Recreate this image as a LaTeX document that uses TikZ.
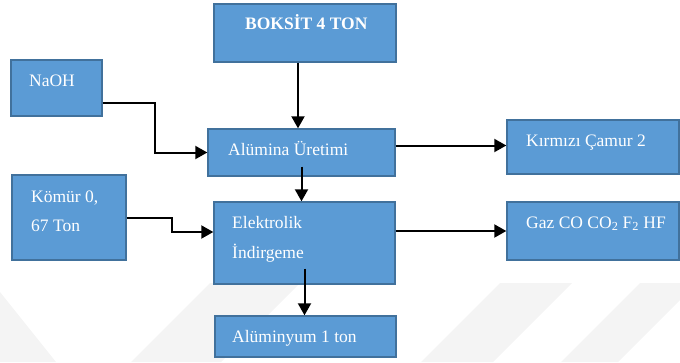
\documentclass[tikz,border=0pt]{standalone}
\usepackage{fontspec}
\setmainfont{Liberation Serif}
\usetikzlibrary{arrows.meta,calc}
\definecolor{boxfill}{HTML}{5B9BD5}
\definecolor{boxline}{HTML}{41719C}
\definecolor{wmark}{HTML}{F4F4F4}
\tikzset{
  blk/.style={draw=boxline, fill=boxfill, line width=1.4pt, inner sep=0pt},
  txt/.style={anchor=base west, inner sep=0pt, text=white, font=\fontsize{17.5}{20}\selectfont},
  arr/.style={draw=black, line width=2pt, -{Triangle[length=12pt,width=13pt]}}
}
\begin{document}
\begin{tikzpicture}[x=1pt,y=-1pt]
\useasboundingbox (0,0) rectangle (680,362);
% faint watermark bands
\fill[wmark] (0,292) -- (56,362) -- (0,362) -- cycle;
\fill[wmark] (210,283) -- (300,283) -- (221,362) -- (131,362) -- cycle;
\fill[wmark] (500,283) -- (572,283) -- (493,362) -- (421,362) -- cycle;
\fill[wmark] (640,283) -- (680,283) -- (680,300) -- (618,362) -- (561,362) -- cycle;
% boxes
\node[blk, minimum width=182pt, minimum height=58pt] (boksit) at (305,33) {};
\node[blk, minimum width=91pt, minimum height=56pt] (naoh) at (56.5,88) {};
\node[blk, minimum width=187pt, minimum height=47pt] (alumina) at (301.5,152.5) {};
\node[blk, minimum width=172pt, minimum height=54pt] (kirmizi) at (593,147) {};
\node[blk, minimum width=114pt, minimum height=85pt] (komur) at (69,217.5) {};
\node[blk, minimum width=181pt, minimum height=82pt] (elektro) at (304.5,243) {};
\node[blk, minimum width=172pt, minimum height=58pt] (gaz) at (593,231) {};
\node[blk, minimum width=181pt, minimum height=41pt] (alum) at (305.5,336.5) {};
% texts
\node[txt, font=\fontsize{17.5}{20}\selectfont\bfseries] (t1) at (245,29) {BOKSİT 4 TON};
\node[txt] (t2) at (29,86) {NaOH};
\node[txt] (t3) at (228,155) {Alümina Üretimi};
\node[txt] (t4) at (526,146) {Kırmızı Çamur 2};
\node[txt] (t5) at (31,202) {Kömür 0,};
\node[txt] (t6) at (31,231) {67 Ton};
\node[txt] (t7) at (232,228) {Elektrolik};
\node[txt] (t8) at (232,258) {İndirgeme};
\node[txt] (t9) at (526,228) {Gaz CO CO\textsubscript{2} F\textsubscript{2} HF};
\node[txt] (t10) at (232,342) {Alüminyum 1 ton};
% connectors
\draw[arr] ([xshift=-7pt]boksit.south) -- ([xshift=-7pt]boksit.south |- alumina.north);
\draw[arr] ([yshift=-15pt]naoh.east) -- ++(52,0) |- (alumina.west);
\draw[arr] ([yshift=7pt]alumina.east) -- ([yshift=7pt]alumina.east -| kirmizi.west);
\draw[arr] ([yshift=10pt]alumina.south) -- (alumina.south |- elektro.north);
\draw[arr] (komur.east) -- ++(45,0) |- ([yshift=11pt]elektro.west);
\draw[arr] (elektro.east |- gaz.west) -- (gaz.west);
\draw[arr] ([yshift=16pt]elektro.south) -- (elektro.south |- alum.north);
\end{tikzpicture}
\end{document}
